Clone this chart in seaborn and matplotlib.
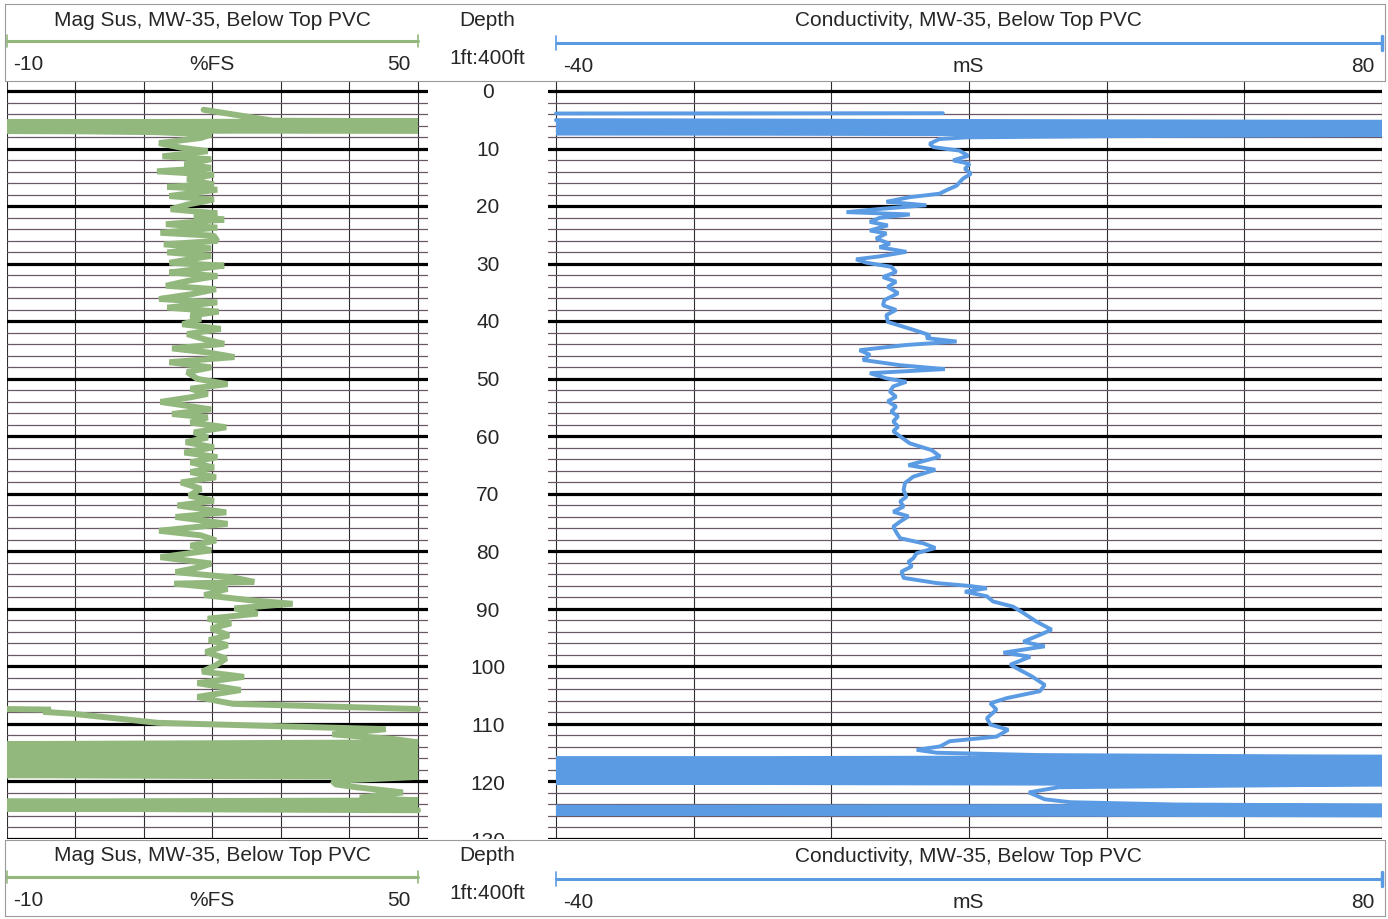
import numpy as np
import pandas as pd
import seaborn as sns
import matplotlib.pyplot as plt

sns.set_theme(style='white')
plt.rcParams['font.family'] = ['Liberation Sans', 'DejaVu Sans']

# Mag Sus (%FS) against depth (ft).
# Two pieces: the trace wraps off the right edge at ~107 ft.
mag_depth_a = [3.2, 5.1, 5.2, 5.4, 5.6, 5.8, 6.0, 6.2, 6.4, 6.6, 6.8, 6.9, 6.95, 7.1, 7.5, 8.1,
               9.0, 9.8, 10.4, 11.3, 11.8, 12.7, 13.3, 13.9, 14.5, 15.3, 16.2, 16.6, 17.1, 18.2,
               18.8, 19.7, 20.5, 21.2, 21.7, 22.3, 23.1, 23.7, 24.6, 25.1, 26.0, 26.6, 27.3, 28.0,
               28.6, 29.8, 30.3, 30.9, 31.5, 32.1, 32.9, 33.8, 34.4, 35.3, 36.1, 36.7, 37.6, 38.3,
               39.0, 39.6, 40.5, 41.3, 42.2, 43.1, 43.9, 44.7, 45.4, 46.2, 47.1, 48.0, 48.8, 50.0,
               50.9, 51.7, 52.6, 53.2, 54.0, 55.3, 56.1, 56.7, 57.6, 58.4, 59.3, 60.2, 61.0, 61.9,
               62.8, 63.6, 64.5, 65.4, 66.2, 67.1, 68.0, 69.1, 70.3, 71.2, 72.0, 73.2, 74.0, 75.2,
               76.4, 77.2, 78.1, 79.0, 79.8, 81.0, 82.1, 82.7, 83.6, 84.5, 85.3, 85.6, 86.5, 87.6,
               88.5, 89.1, 89.9, 90.8, 91.7, 92.5, 93.4, 94.6, 95.4, 96.3, 97.5, 98.6, 99.8, 100.9,
               101.8, 102.9, 104.1, 105.3, 106.1, 106.5, 107.4]
mag_value_a = [18.7, 28.8, 50, -10, 50, -10, 50, -10, 50, -10, 50, -10, 1.0, 12.0, 19.8, 18.3,
               12.2, 15.4, 19.3, 12.7, 19.8, 15.9, 19.8, 11.9, 20.2, 16.3, 20.2, 13.4, 20.7, 13.7,
               20.2, 16.3, 13.9, 20.7, 17.3, 21.7, 13.2, 20.7, 12.4, 20.2, 20.7, 12.9, 19.8, 13.4,
               19.8, 13.7, 21.7, 17.8, 13.7, 20.7, 16.6, 13.2, 20.5, 16.8, 12.2, 20.7, 13.4, 20.9,
               16.8, 18.3, 15.6, 21.2, 16.3, 18.8, 21.7, 14.1, 19.3, 23.2, 13.7, 19.8, 16.3, 17.8,
               22.2, 16.8, 19.3, 16.8, 12.4, 19.8, 14.1, 19.3, 16.8, 22.0, 17.3, 19.3, 16.1, 20.2,
               15.9, 20.7, 16.8, 20.2, 16.8, 20.5, 15.4, 18.3, 16.6, 20.2, 14.9, 22.0, 14.6, 22.2,
               12.2, 18.3, 20.5, 16.8, 19.8, 12.4, 19.8, 18.3, 14.6, 22.9, 26.1, 14.4, 22.2, 18.8,
               25.6, 31.7, 23.2, 26.6, 19.3, 22.7, 19.8, 22.4, 19.5, 22.2, 19.0, 22.0, 20.5, 18.5,
               24.6, 17.8, 24.1, 17.8, 21.2, 23.0, 50]
mag_depth_b = [107.4, 107.5, 107.9, 108.2, 109.8, 110.4, 110.9, 111.8, 112.6, 113.2,
               113.5, 113.8, 114.1, 114.4, 114.7, 115.0, 115.3, 115.6, 115.9, 116.2, 116.5,
               116.8, 117.1, 117.4, 117.7, 118.0, 118.3, 118.6, 118.9, 119.2,
               119.9, 120.5, 121.0, 121.9, 122.8, 123.3, 123.5, 123.8, 124.1, 124.4, 124.7, 125.0]
mag_value_b = [-10, -3.6, -4.7, -0.6, 12.0, 30.0, 45.3, 37.5, 46.3, 50,
               -10, 50, -10, 50, -10, 50, -10, 50, -10, 50, -10,
               50, -10, 50, -10, 50, -10, 50, -10, 50,
               37.5, 38.0, 41.0, 47.8, 41.5, 50, -10, 50, -10, 50, -10, 50]

# Conductivity (mS) against depth (ft)
cond_depth_a = [3.8, 3.85]
cond_value_a = [16.2, -40]
cond_depth_b = [5.0, 5.3, 5.6, 5.9, 6.2, 6.5, 6.8, 7.1, 7.3, 7.6, 7.8, 8.0, 8.3, 9.1, 9.7,
                10.3, 11.2, 12.0, 12.6, 13.5, 14.3, 15.2, 16.4, 17.2, 17.8, 18.4, 19.2, 19.8,
                20.4, 21.0, 21.4, 22.0, 22.7, 23.3, 24.2, 24.7, 25.6, 26.5, 27.1, 27.9, 28.7,
                29.2, 29.8, 30.5, 31.4, 32.3, 33.1, 34.0, 35.1, 36.3, 37.2, 38.0, 38.9, 40.1,
                40.9, 41.8, 42.4, 42.9, 43.5, 44.1, 45.0, 45.8, 46.7, 47.6, 48.3, 49.0, 49.9,
                50.5, 51.3, 52.2, 53.1, 53.9, 54.8, 55.7, 56.5, 57.4, 58.3, 59.1, 60.0, 61.2,
                62.4, 63.5, 65.0, 65.8, 67.0, 68.1, 69.3, 70.5, 71.3, 72.2, 73.1, 73.9, 74.8,
                75.7, 76.8, 77.7, 78.6, 79.4, 80.3, 81.2, 81.8, 82.6, 83.5, 84.6, 85.5, 86.0,
                86.4, 87.0, 87.8, 88.7, 89.6, 90.7, 92.2, 93.6, 94.5, 95.7, 96.5, 97.6, 98.3,
                99.7, 100.6, 101.7, 103.2, 104.3, 105.5, 106.4, 107.5, 109.0, 110.1, 111.0,
                112.2, 113.0, 113.9, 114.5, 115.0, 115.4, 115.7,
                116.0, 116.3, 116.6, 116.9, 117.2, 117.5, 117.8, 118.1, 118.4, 118.7, 119.0,
                119.3, 119.6, 119.9, 120.2, 120.5,
                121.0, 121.9, 123.1, 123.6, 124.0, 124.2, 124.4, 124.7, 125.0, 125.3, 125.6, 125.9]
cond_value_b = [-40, 80, -40, 80, -40, 80, -40, 80, -40, 80, 40, 19.6, 15.7, 14.3, 14.8,
                18.6, 19.9, 17.7, 20.1, 19.4, 20.3, 19.1, 18.2, 16.7, 15.7, 11.4, 8.0, 13.8,
                7.5, 2.2, 11.4, 7.0, 5.6, 8.2, 5.6, 8.0, 6.5, 8.5, 7.0, 10.9, 7.0,
                3.6, 5.1, 8.7, 9.4, 7.5, 9.4, 8.2, 9.7, 7.7, 7.5, 9.4, 8.0, 8.2,
                10.4, 12.8, 14.3, 13.8, 18.2, 10.9, 4.1, 5.6, 4.6, 9.9, 16.5, 5.6, 8.0,
                10.9, 9.0, 8.5, 9.4, 8.2, 9.4, 8.7, 9.7, 9.0, 9.7, 9.0, 10.0, 11.4,
                14.6, 15.8, 11.2, 15.1, 11.9, 10.7, 10.5, 10.9, 10.0, 10.5, 9.0, 11.2, 10.0,
                9.0, 9.5, 10.0, 13.4, 15.1, 12.4, 11.9, 11.2, 11.7, 10.2, 10.5, 15.3, 20.1,
                22.6, 19.4, 22.6, 23.5, 26.4, 27.9, 29.8, 32.0, 30.3, 27.9, 31.0, 25.0, 28.9,
                26.0, 27.4, 29.1, 31.0, 30.3, 25.5, 23.1, 24.0, 22.6, 23.1, 25.7,
                24.0, 17.2, 15.8, 12.4, 15.3, 30.0, 80,
                -40, 80, -40, 80, -40, 80, -40, 80, -40, 80, -40,
                80, -40, 80, -40, 80,
                33.0, 28.7, 31.0, 34.7, 50, 80, -40, 80, -40, 80, -40, 80]

depth_labels = list(range(0, 140, 10))

GREEN = '#93b87e'
BLUE = '#5b9be3'
W, H = 1388, 920

mag_df = pd.concat([
    pd.DataFrame({'depth': mag_depth_a, 'value': mag_value_a, 'seg': 'a'}),
    pd.DataFrame({'depth': mag_depth_b, 'value': mag_value_b, 'seg': 'b'}),
])
cond_df = pd.concat([
    pd.DataFrame({'depth': cond_depth_a, 'value': cond_value_a, 'seg': 'a'}),
    pd.DataFrame({'depth': cond_depth_b, 'value': cond_value_b, 'seg': 'b'}),
])

fig = plt.figure(figsize=(W / 100, H / 100), dpi=100)


def px_axes(x0, y0, x1, y1, **kw):
    return fig.add_axes([x0 / W, 1 - y1 / H, (x1 - x0) / W, (y1 - y0) / H], **kw)


def log_track(ax, xmin, xmax, vticks):
    ax.set_xlim(xmin, xmax)
    ax.set_ylim(129.7, -1.8)
    ax.set_xticks(vticks)
    ax.set_yticks(range(0, 131, 10))
    ax.set_yticks(range(0, 131, 2), minor=True)
    ax.grid(axis='x', color='#2e2e2e', lw=0.8)
    ax.grid(axis='y', which='minor', color='#6a5866', lw=0.9)
    ax.grid(axis='y', which='major', color='black', lw=2.3)
    ax.tick_params(which='both', length=0, labelbottom=False, labelleft=False)
    ax.set_xlabel('')
    ax.set_ylabel('')
    for s in ax.spines.values():
        s.set_visible(False)


ax_mag = px_axes(7, 82, 428, 840)
ax_dep = px_axes(428, 82, 548, 840)
ax_con = px_axes(548, 82, 1382, 840)

sns.lineplot(data=mag_df, x='value', y='depth', units='seg', estimator=None, sort=False,
             orient='y', color=GREEN, lw=4.3, solid_joinstyle='bevel',
             ax=ax_mag, legend=False)
log_track(ax_mag, -10, 51.46, range(-10, 51, 10))

sns.lineplot(data=cond_df, x='value', y='depth', units='seg', estimator=None, sort=False,
             orient='y', color=BLUE, lw=2.8, solid_joinstyle='bevel',
             ax=ax_con, legend=False)
log_track(ax_con, -41.16, 80, range(-40, 81, 20))

ax_dep.set_ylim(129.7, -1.8)
ax_dep.set_xlim(0, 1)
ax_dep.axis('off')
for d in depth_labels:
    ax_dep.text(0.5, d, str(d), ha='center', va='center', fontsize=15, clip_on=True)

# header / footer panels drawn in pixel space
hdr = fig.add_axes([0, 0, 1, 1], facecolor='none', zorder=5)
hdr.set_xlim(0, W)
hdr.set_ylim(H, 0)
hdr.axis('off')

for off in (0, 836):
    edge = '#9a9a9a'
    top, bot = (5, 82) if off == 0 else (841, 917)
    hdr.plot([5, 1385], [top, top], color=edge, lw=0.8)
    hdr.plot([5, 1385], [bot, bot], color=edge, lw=0.8)
    hdr.plot([5, 5], [top, bot], color=edge, lw=0.8)
    hdr.plot([1385, 1385], [top, bot], color=edge, lw=0.8)

    hdr.text(212, 20 + off, 'Mag Sus, MW-35, Below Top PVC', ha='center', va='center', fontsize=15)
    hdr.plot([7, 418], [42 + off, 42 + off], color=GREEN, lw=2.2)
    hdr.plot([7, 7], [36 + off, 48 + off], color=GREEN, lw=1.2)
    hdr.plot([418, 418], [36 + off, 48 + off], color=GREEN, lw=1.2)
    hdr.text(13, 65 + off, '-10', ha='left', va='center', fontsize=15)
    hdr.text(212, 65 + off, '%FS', ha='center', va='center', fontsize=15)
    hdr.text(411, 65 + off, '50', ha='right', va='center', fontsize=15)

    hdr.text(487, 20 + off, 'Depth', ha='center', va='center', fontsize=15)
    hdr.text(487, 58 + off, '1ft:400ft', ha='center', va='center', fontsize=15)

    hdr.text(968, 21 + off, 'Conductivity, MW-35, Below Top PVC', ha='center', va='center', fontsize=15)
    hdr.plot([556, 1382], [44 + off, 44 + off], color=BLUE, lw=2.2)
    hdr.plot([556, 556], [37 + off, 51 + off], color=BLUE, lw=1.2)
    hdr.plot([1382, 1382], [37 + off, 51 + off], color=BLUE, lw=2.5)
    hdr.text(563, 67 + off, '-40', ha='left', va='center', fontsize=15)
    hdr.text(968, 67 + off, 'mS', ha='center', va='center', fontsize=15)
    hdr.text(1375, 67 + off, '80', ha='right', va='center', fontsize=15)

fig.savefig('out.png', dpi=100)
